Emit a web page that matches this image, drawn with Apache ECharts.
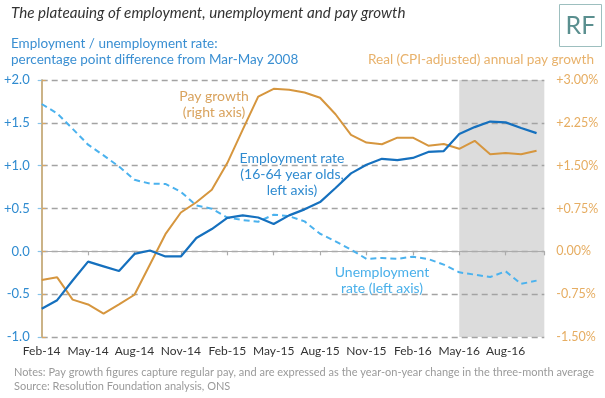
<!DOCTYPE html>
<html>
<head>
<meta charset="utf-8">
<script src="https://cdn.jsdelivr.net/npm/echarts@6/dist/echarts.min.js"></script>
<style>
html,body{margin:0;padding:0;background:#fff;}
#main{width:605px;height:398px;}
</style>
</head>
<body>
<div id="main"></div>
<script>
var months = ['Feb-14','Mar-14','Apr-14','May-14','Jun-14','Jul-14','Aug-14','Sep-14','Oct-14','Nov-14','Dec-14','Jan-15',
  'Feb-15','Mar-15','Apr-15','May-15','Jun-15','Jul-15','Aug-15','Sep-15','Oct-15','Nov-15','Dec-15','Jan-16',
  'Feb-16','Mar-16','Apr-16','May-16','Jun-16','Jul-16','Aug-16','Sep-16','Oct-16'];
var employment = [-0.67,-0.57,-0.34,-0.12,-0.175,-0.23,-0.03,0.01,-0.06,-0.06,0.155,0.26,
  0.39,0.42,0.395,0.32,0.42,0.49,0.575,0.74,0.91,1.01,1.08,1.065,
  1.09,1.16,1.17,1.37,1.45,1.515,1.505,1.44,1.38];
var unemployment = [1.72,1.61,1.43,1.245,1.12,0.99,0.835,0.79,0.787,0.695,0.535,0.498,
  0.394,0.365,0.345,0.428,0.41,0.35,0.205,0.117,0.02,-0.088,-0.078,-0.088,
  -0.062,-0.09,-0.155,-0.245,-0.272,-0.30,-0.233,-0.38,-0.342];
var payGrowth = [-0.50,-0.455,-0.845,-0.93,-1.09,-0.93,-0.76,-0.23,0.30,0.68,0.86,1.08,
  1.545,2.13,2.71,2.845,2.83,2.78,2.69,2.40,2.04,1.905,1.875,1.99,
  1.99,1.85,1.88,1.795,1.935,1.70,1.72,1.70,1.76];
var leftRange = [-1, 2];
var rightRange = [-1.5, 3];
var shadeStart = 'May-16';

var FONT = 'Lato, "Open Sans", sans-serif';
function pairs(arr){ return arr.map(function(v,i){ return [i,v]; }); }
var xMax = months.length - 0.5;
var shadeData = [[months.indexOf(shadeStart), leftRange[1]], [xMax, leftRange[1]]];

var chart = echarts.init(document.getElementById('main'), null, {renderer:'canvas'});
chart.setOption({
  animation:false,
  backgroundColor:'#fff',
  textStyle:{fontFamily:FONT},
  grid:{left:41.7, right:60.7, top:80, bottom:61, containLabel:false},
  xAxis:[{
    type:'value', min:0, max:xMax, interval:3, z:2,
    axisLine:{show:true, onZero:true, lineStyle:{color:'#ababab', width:1.2}},
    axisTick:{show:true, length:4, lineStyle:{color:'#ababab', width:1.2}},
    axisLabel:{show:false},
    splitLine:{show:false}
  },{
    type:'value', min:0, max:xMax, interval:3, position:'bottom', z:2,
    axisLine:{show:false, onZero:false},
    axisTick:{show:false},
    axisLabel:{show:true, margin:8, color:'#333', fontSize:12, fontFamily:FONT,
      showMaxLabel:false,
      formatter:function(v){ return months[v] || ''; }},
    splitLine:{show:false}
  }],
  yAxis:[{
    type:'value', min:leftRange[0], max:leftRange[1], interval:0.5, position:'left', z:2,
    axisLine:{show:true, lineStyle:{color:'#86c3ea', width:1.5}},
    axisTick:{show:true, length:4, lineStyle:{color:'#86c3ea', width:1.2}},
    axisLabel:{margin:12, color:'#2f8bd0', fontSize:13, fontFamily:FONT,
      formatter:function(v){ return (v>0?'+':'') + v.toFixed(1); }},
    splitLine:{show:true, lineStyle:{color:'#a3a3a3', width:1.3, type:[6,4]}}
  },{
    type:'value', min:rightRange[0], max:rightRange[1], interval:0.75, position:'right', z:2,
    axisLine:{show:true, lineStyle:{color:'#d9a865', width:1.5}},
    axisTick:{show:true, length:4, lineStyle:{color:'#d9a865', width:1.2}},
    axisLabel:{margin:12, color:'#e6ad62', fontSize:12.5, fontFamily:FONT,
      formatter:function(v){ return (v>0?'+':'') + v.toFixed(2) + '%'; }},
    splitLine:{show:false}
  }],
  series:[{
    type:'line', name:'shade', data:shadeData, z:-5, xAxisIndex:0, yAxisIndex:0,
    silent:true, symbol:'none',
    lineStyle:{width:0, opacity:0},
    areaStyle:{color:'#b9b9b9', opacity:0.5, origin:'start'}
  },{
    type:'line', name:'Pay growth', data:pairs(payGrowth), xAxisIndex:0, yAxisIndex:1,
    symbol:'none', lineStyle:{color:'#d6963e', width:2}, z:3
  },{
    type:'line', name:'Unemployment', data:pairs(unemployment), xAxisIndex:0, yAxisIndex:0,
    symbol:'none', lineStyle:{color:'#4bb2ee', width:2, type:[6,4]}, z:4
  },{
    type:'line', name:'Employment', data:pairs(employment), xAxisIndex:0, yAxisIndex:0,
    symbol:'none', lineStyle:{color:'#1570be', width:2.2}, z:5
  }],
  graphic:[
    {type:'text', x:11, y:13.5, style:{text:'The plateauing of employment, unemployment and pay growth',
      fontSize:15.2, fontStyle:'italic', fontFamily:FONT, fill:'#333', verticalAlign:'middle'}},
    {type:'text', x:11, y:52, style:{text:'Employment / unemployment rate:\npercentage point difference from Mar-May 2008',
      fontSize:13.5, lineHeight:16, fontFamily:FONT, fill:'#3a8fd2', verticalAlign:'middle'}},
    {type:'text', x:594, y:59.5, style:{text:'Real (CPI-adjusted) annual pay growth',
      fontSize:13.6, fontFamily:FONT, fill:'#e8b26c', align:'right', verticalAlign:'middle'}},
    {type:'rect', shape:{x:559.5, y:4.5, width:42, height:42}, style:{fill:'#fff', stroke:'#9dbfbf', lineWidth:1}},
    {type:'text', x:580.5, y:26, style:{text:'RF', fontSize:25, fontFamily:FONT, fill:'#5a8f8f', align:'center', verticalAlign:'middle'}},
    {type:'text', x:214, y:104, z:20, style:{text:'Pay growth\n(right axis)',
      fontSize:14, lineHeight:16, fontFamily:FONT, fill:'#d9a35e', align:'center', verticalAlign:'middle'}},
    {type:'text', x:292, y:174, z:20, style:{text:'Employment rate\n(16-64 year olds,\nleft axis)',
      fontSize:14, lineHeight:16, fontFamily:FONT, fill:'#2f8bd0', align:'center', verticalAlign:'middle'}},
    {type:'text', x:382, y:280, z:20, style:{text:'Unemployment\nrate (left axis)',
      fontSize:14, lineHeight:16, fontFamily:FONT, fill:'#4ab0ea', align:'center', verticalAlign:'middle'}},
    {type:'text', x:14, y:379.5, style:{text:'Notes: Pay growth figures capture regular pay, and are expressed as the year-on-year change in the three-month average\nSource: Resolution Foundation analysis, ONS',
      fontSize:11, lineHeight:14, fontFamily:FONT, fill:'#9a9a9a', verticalAlign:'middle'}}
  ]
});
</script>
</body>
</html>
